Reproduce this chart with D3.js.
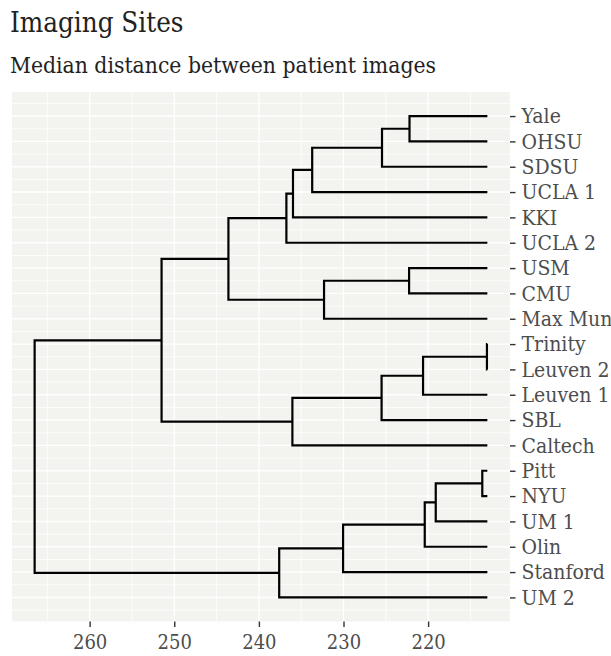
<!DOCTYPE html>
<html>
<head>
<meta charset="utf-8">
<script src="https://cdn.jsdelivr.net/npm/d3@7.9.0/dist/d3.min.js"></script>
<style>
  body { margin: 0; background: #fff; }
  svg text { font-family: 'DejaVu Serif Condensed', 'DejaVu Serif', serif; font-stretch: condensed; }
</style>
</head>
<body>
<div id="chart"></div>
<script>
// leaves, top to bottom
const leaves = ['Yale', 'OHSU', 'SDSU', 'UCLA 1', 'KKI', 'UCLA 2', 'USM', 'CMU', 'Max Mun',
  'Trinity', 'Leuven 2', 'Leuven 1', 'SBL', 'Caltech', 'Pitt', 'NYU', 'UM 1', 'Olin', 'Stanford', 'UM 2'];

// hclust style merges: negative = leaf (1-based), positive = earlier merge (1-based)
const mergeLeft  = [-10, -15,   2, -1,  -7,   3,   1,   4,   7,   6,   5,   8,  12,   9,  13,  10,  15,  17,  16];
const mergeRight = [-11, -16, -17, -2,  -8, -18, -12,  -3, -13, -19,  -9,  -4,  -5, -14,  -6, -20,  11,  14,  18];
const mergeHeight = [213.05, 213.6, 219.1, 222.2, 222.25, 220.4, 220.6, 225.45, 225.5, 230.05,
  232.3, 233.7, 235.97, 236.04, 236.75, 237.6, 243.6, 251.5, 266.5];
const leafHeight = 213.0;

const xTicks = [260, 250, 240, 230, 220];
const xMinor = [265, 255, 245, 235, 225, 215];

const title = 'Imaging Sites';
const subtitle = 'Median distance between patient images';

// build the tree from the merge list
function buildTree() {
  const nodes = [];
  const ref = (r) => r < 0
    ? { name: leaves[-r - 1], order: -r - 1, height: leafHeight }
    : nodes[r - 1];
  mergeLeft.forEach((l, i) => {
    nodes.push({ height: mergeHeight[i], children: [ref(l), ref(mergeRight[i])] });
  });
  return nodes[nodes.length - 1];
}

const width = 611;
const height = 656;
const panel = { left: 12, right: 510, top: 92, bottom: 621.5 };
const n = leaves.length;

const root = d3.hierarchy(buildTree());
// keep the leaves in the listed order
root.sort((a, b) => d3.min(a.leaves(), (l) => l.data.order) - d3.min(b.leaves(), (l) => l.data.order));
d3.cluster().separation(() => 1).size([n, 1])(root);

const svg = d3.select('#chart').append('svg')
  .attr('width', width)
  .attr('height', height);

const [hMin, hMax] = d3.extent(root.descendants(), (d) => d.data.height);
const pad = (hMax - hMin) * 0.05;
const x = d3.scaleLinear()
  .domain([hMax + pad, hMin - pad])
  .range([panel.left, panel.right]);

const ypad = (n - 1) * 0.05;
const y = d3.scaleLinear()
  .domain([1 - ypad, n + ypad])
  .range([panel.bottom, panel.top]);

// cluster x runs 0.5 .. n-0.5, first leaf on top
const pos = (d) => n + 0.5 - d.x;

svg.append('text')
  .attr('x', 10).attr('y', 32)
  .attr('font-size', 27.5)
  .attr('fill', '#222')
  .text(title);

svg.append('text')
  .attr('x', 10).attr('y', 73)
  .attr('font-size', 22.7)
  .attr('fill', '#222')
  .text(subtitle);

svg.append('rect')
  .attr('x', panel.left).attr('y', panel.top)
  .attr('width', panel.right - panel.left)
  .attr('height', panel.bottom - panel.top)
  .attr('fill', '#f3f3ef');

const grid = svg.append('g').attr('stroke', '#fff');

const yMajor = d3.range(1, n + 1);
const yMinor = d3.range(0.5, n + 1, 1);

grid.selectAll('.hminor').data(yMinor).join('line')
  .attr('x1', panel.left).attr('x2', panel.right)
  .attr('y1', (d) => y(d)).attr('y2', (d) => y(d))
  .attr('stroke-width', 0.8);

grid.selectAll('.vminor').data(xMinor).join('line')
  .attr('x1', (d) => x(d)).attr('x2', (d) => x(d))
  .attr('y1', panel.top).attr('y2', panel.bottom)
  .attr('stroke-width', 0.8);

grid.selectAll('.hmajor').data(yMajor).join('line')
  .attr('x1', panel.left).attr('x2', panel.right)
  .attr('y1', (d) => y(d)).attr('y2', (d) => y(d))
  .attr('stroke-width', 1.4);

grid.selectAll('.vmajor').data(xTicks).join('line')
  .attr('x1', (d) => x(d)).attr('x2', (d) => x(d))
  .attr('y1', panel.top).attr('y2', panel.bottom)
  .attr('stroke-width', 1.4);

// dendrogram elbows
const links = svg.append('g')
  .attr('fill', 'none')
  .attr('stroke', '#000')
  .attr('stroke-width', 2.2);

links.selectAll('path')
  .data(root.descendants().filter((d) => d.children))
  .join('path')
  .attr('d', (d) => {
    const [a, b] = d.children;
    const px = x(d.data.height);
    return `M${x(a.data.height)},${y(pos(a))}H${px}V${y(pos(b))}H${x(b.data.height)}`;
  });

// axes
const yAxis = d3.axisRight(y)
  .tickValues(yMajor)
  .tickFormat((d) => leaves[n - d])
  .tickSize(5.5)
  .tickPadding(6);

const gy = svg.append('g')
  .attr('transform', `translate(${panel.right},0)`)
  .call(yAxis);
gy.select('.domain').remove();
gy.selectAll('line').attr('stroke', '#333').attr('stroke-width', 1.4);
gy.selectAll('text').attr('font-size', 21).attr('fill', '#4d4d4d').attr('font-family', null);

const xAxis = d3.axisBottom(x)
  .tickValues(xTicks)
  .tickSize(5.5)
  .tickPadding(8);

const gx = svg.append('g')
  .attr('transform', `translate(0,${panel.bottom})`)
  .call(xAxis);
gx.select('.domain').remove();
gx.selectAll('line').attr('stroke', '#333').attr('stroke-width', 1.4);
gx.selectAll('text').attr('font-size', 20).attr('fill', '#4d4d4d').attr('font-family', null);
</script>
</body>
</html>
